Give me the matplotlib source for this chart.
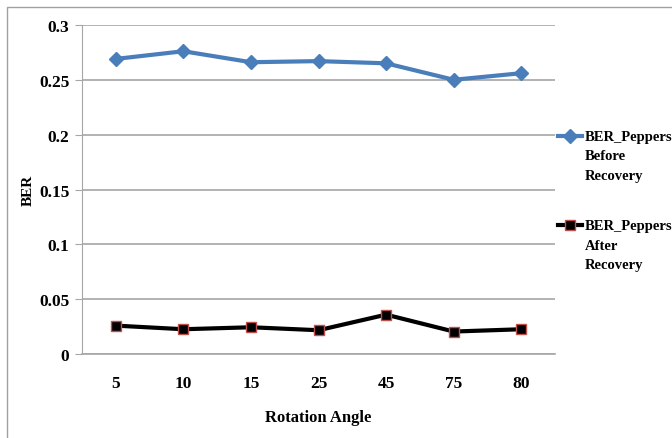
import matplotlib.pyplot as plt
from matplotlib.patches import Rectangle
from matplotlib.legend_handler import HandlerLine2D

angles = ['5', '10', '15', '25', '45', '75', '80']
ber_before = [0.269, 0.276, 0.266, 0.267, 0.265, 0.250, 0.256]
ber_after = [0.026, 0.0227, 0.0245, 0.0218, 0.036, 0.0206, 0.0227]
label_before = 'BER_Peppers\nBefore\nRecovery'
label_after = 'BER_Peppers\nAfter\nRecovery'

plt.rcParams['font.family'] = 'Liberation Serif'
plt.rcParams['font.weight'] = 'bold'

LINE_PT = 14.4  # distance between legend text lines, in points


class TopLineHandler(HandlerLine2D):
    # put the legend marker level with the first line of a 3-line label
    def create_artists(self, legend, orig_handle, xdescent, ydescent, width,
                       height, fontsize, trans):
        return super().create_artists(legend, orig_handle, xdescent,
                                      ydescent - 2 * LINE_PT, width, height,
                                      fontsize, trans)


fig = plt.figure(figsize=(6.72, 4.39), dpi=100)
ax = fig.add_axes([0.122, 0.191, 0.704, 0.750])

# outer chart frame
fig.patches.append(Rectangle((7 / 672, -0.05), 1.1, 1 - 8 / 439 + 0.05,
                             transform=fig.transFigure, fill=False,
                             edgecolor='#a0a0a0', linewidth=1))

x = range(len(angles))
l1, = ax.plot(x, ber_before, color='#4a7ebb', linewidth=3, marker='D',
              markersize=7, label=label_before)
l2, = ax.plot(x, ber_after, color='black', linewidth=3, marker='s',
              markersize=7.5, markerfacecolor='black',
              markeredgecolor='#c0504d', markeredgewidth=1, label=label_after)

ax.set_xlim(-0.5, len(angles) - 0.5)
ax.set_ylim(0, 0.3)
ax.set_yticks([0, 0.05, 0.1, 0.15, 0.2, 0.25, 0.3])
ax.set_yticklabels(['0', '0.05', '0.1', '0.15', '0.2', '0.25', '0.3'])
ax.set_xticks(list(x))
ax.set_xticklabels(angles)
ax.grid(axis='y', color='#a6a6a6', linewidth=1.2)
ax.set_axisbelow(True)
for s in ['top', 'right']:
    ax.spines[s].set_visible(False)
ax.spines['left'].set_color('#a6a6a6')
ax.spines['bottom'].set_color('#a6a6a6')
ax.spines['bottom'].set_linewidth(1.2)
ax.tick_params(axis='y', length=5, color='#a6a6a6', labelsize=12.5, pad=4)
ax.tick_params(axis='x', length=0, labelsize=12.5, pad=15)
ax.set_ylabel('BER', fontsize=11, fontweight='bold', labelpad=3)
ax.set_xlabel('Rotation Angle', fontsize=12, fontweight='bold', labelpad=13)

leg = ax.legend(handles=[l1, l2], loc='upper left',
                bbox_to_anchor=(1.006, 0.681), frameon=False,
                handlelength=1.64, handletextpad=0.2, fontsize=10.5,
                labelspacing=2.6, borderpad=0, borderaxespad=0,
                handler_map={l1: TopLineHandler(), l2: TopLineHandler()})
for t in leg.get_texts():
    t.set_linespacing(1.63)

fig.savefig('out.png', dpi=100)
